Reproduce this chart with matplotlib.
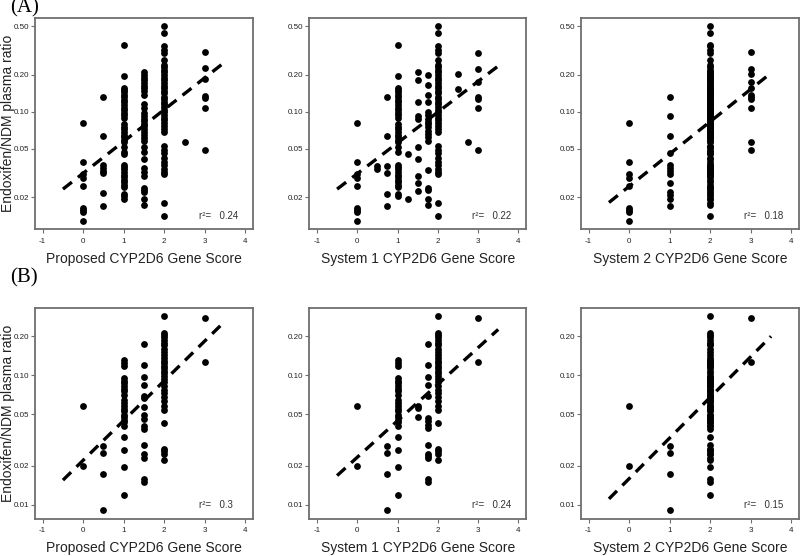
import matplotlib
matplotlib.use('Agg')
import matplotlib.pyplot as plt
from matplotlib.ticker import NullLocator

plt.rcParams['font.family'] = ['Liberation Sans', 'DejaVu Sans']

# ---- row A : ratio by gene score ----
prop_a = {0: [0.081, 0.039, 0.031, 0.029, 0.0247, 0.0163, 0.0157, 0.0151, 0.0128],
          0.5: [0.133, 0.063, 0.0365, 0.0348, 0.033, 0.0314, 0.0218, 0.017],
          1: [0.352, 0.197, 0.157, 0.150, 0.144, 0.137, 0.131, 0.125, 0.119, 0.113,
              0.108, 0.103, 0.098, 0.094, 0.089, 0.079, 0.075, 0.072, 0.069, 0.065,
              0.062, 0.059, 0.057, 0.052, 0.047, 0.045, 0.037, 0.0354, 0.0339, 0.0322,
              0.0306, 0.0293, 0.028, 0.0267, 0.0254, 0.0243, 0.0214, 0.0205, 0.0195],
          1.5: [0.210, 0.200, 0.190, 0.181, 0.171, 0.163, 0.155, 0.148, 0.137, 0.115,
                0.108, 0.097, 0.093, 0.088, 0.084, 0.080, 0.076, 0.072, 0.069, 0.065,
                0.061, 0.058, 0.052, 0.047, 0.041, 0.035, 0.032, 0.030, 0.024, 0.023,
                0.022, 0.0195, 0.0174],
          2: [0.50, 0.439, 0.341, 0.320, 0.301, 0.265, 0.241, 0.230, 0.219, 0.210,
              0.200, 0.190, 0.181, 0.171, 0.163, 0.155, 0.148, 0.141, 0.133, 0.127,
              0.121, 0.115, 0.109, 0.104, 0.099, 0.094, 0.089, 0.085, 0.081, 0.077,
              0.073, 0.069, 0.053, 0.049, 0.046, 0.042, 0.039, 0.037, 0.034, 0.032,
              0.031, 0.018, 0.0142],
          2.5: [0.057],
          3: [0.306, 0.226, 0.185, 0.135, 0.129, 0.108, 0.049]}

sys1_a = {0: [0.081, 0.039, 0.031, 0.029, 0.0247, 0.0163, 0.0157, 0.0151, 0.0128],
          0.5: [0.036, 0.034],
          0.75: [0.133, 0.063, 0.0358, 0.0318, 0.0215, 0.017],
          1: [0.352, 0.197, 0.157, 0.150, 0.144, 0.137, 0.131, 0.125, 0.119, 0.113,
              0.108, 0.103, 0.098, 0.094, 0.089, 0.079, 0.075, 0.072, 0.069, 0.065,
              0.062, 0.059, 0.057, 0.052, 0.047, 0.037, 0.0354, 0.0339, 0.0322,
              0.0306, 0.0293, 0.028, 0.0267, 0.0254, 0.0243, 0.0214, 0.0205],
          1.25: [0.045, 0.0195],
          1.5: [0.210, 0.181, 0.121, 0.093, 0.088, 0.052, 0.041, 0.030, 0.0263, 0.0225],
          1.75: [0.199, 0.164, 0.136, 0.120, 0.0987, 0.0933, 0.0877, 0.0822, 0.0787,
                 0.0748, 0.0703, 0.0661, 0.0619, 0.0582, 0.0335, 0.0241, 0.0230,
                 0.0194, 0.0174],
          2: [0.50, 0.439, 0.341, 0.320, 0.301, 0.265, 0.241, 0.230, 0.219, 0.210,
              0.200, 0.190, 0.181, 0.171, 0.163, 0.155, 0.148, 0.141, 0.133, 0.127,
              0.121, 0.115, 0.109, 0.104, 0.099, 0.094, 0.089, 0.085, 0.081, 0.077,
              0.073, 0.069, 0.053, 0.049, 0.046, 0.042, 0.039, 0.037, 0.034, 0.032,
              0.031, 0.018, 0.0142],
          2.5: [0.202, 0.153],
          2.75: [0.057],
          3: [0.303, 0.224, 0.174, 0.133, 0.128, 0.108, 0.049]}

sys2_a = {0: [0.081, 0.039, 0.031, 0.029, 0.0247, 0.0163, 0.0157, 0.0151, 0.0128],
          1: [0.133, 0.092, 0.063, 0.0461, 0.0365, 0.0348, 0.0326, 0.0312, 0.0262,
              0.0221, 0.021, 0.0195, 0.017],
          2: prop_a[1] + prop_a[1.5] + prop_a[2],
          3: [0.305, 0.225, 0.202, 0.175, 0.155, 0.136, 0.132, 0.128, 0.108,
              0.0563, 0.0489]}

# ---- row B ----
prop_b = {0: [0.0584, 0.0198],
          0.5: [0.0286, 0.0251, 0.0173, 0.0091],
          1: [0.131, 0.125, 0.118, 0.095, 0.091, 0.087, 0.083, 0.078, 0.075, 0.070,
              0.065, 0.061, 0.058, 0.055, 0.053, 0.0496, 0.0475, 0.0448, 0.0432,
              0.0407, 0.0334, 0.0266, 0.0196, 0.0119],
          1.5: [0.176, 0.120, 0.0975, 0.0841, 0.0693, 0.0665, 0.0573, 0.0495, 0.0459,
                0.0407, 0.0384, 0.0291, 0.0248, 0.0228, 0.0157, 0.0150],
          2: [0.287, 0.213, 0.204, 0.196, 0.187, 0.178, 0.170, 0.160, 0.151, 0.143,
              0.136, 0.129, 0.124, 0.118, 0.113, 0.108, 0.104, 0.099, 0.094, 0.089,
              0.083, 0.077, 0.073, 0.068, 0.063, 0.058, 0.054, 0.043, 0.027, 0.0258,
              0.0248, 0.0220],
          3: [0.279, 0.127]}

sys1_b = {0: [0.0584, 0.0198],
          0.75: [0.0286, 0.0251, 0.0173, 0.0091],
          1: [0.131, 0.125, 0.118, 0.095, 0.091, 0.087, 0.083, 0.078, 0.075, 0.070,
              0.065, 0.061, 0.058, 0.055, 0.053, 0.0496, 0.0475, 0.0448, 0.0432,
              0.0407, 0.0334, 0.0266, 0.0196, 0.0119],
          1.5: [0.058, 0.0555, 0.0475],
          1.75: [0.176, 0.120, 0.0975, 0.0841, 0.0693, 0.0467, 0.0440, 0.0415, 0.0391,
                 0.0291, 0.0248, 0.0237, 0.0228, 0.0157, 0.0150],
          2: [0.287, 0.213, 0.204, 0.196, 0.187, 0.178, 0.170, 0.160, 0.151, 0.143,
              0.136, 0.129, 0.124, 0.118, 0.113, 0.108, 0.104, 0.099, 0.094, 0.089,
              0.083, 0.077, 0.073, 0.068, 0.063, 0.058, 0.054, 0.043, 0.027, 0.0258,
              0.0248, 0.0220],
          3: [0.279, 0.127]}

sys2_b = {0: [0.0584, 0.0198],
          1: [0.0286, 0.0251, 0.0173, 0.0091],
          2: prop_b[1] + prop_b[1.5] + prop_b[2],
          3: [0.279, 0.127]}

# fitted line: ratio at score -0.5 and at 3.5
line_x = [-0.5, 3.5]
fits = [[0.0234, 0.255], [0.0234, 0.236], [0.0182, 0.207],
        [0.0155, 0.262], [0.0168, 0.226], [0.0111, 0.200]]
r2 = ['0.24', '0.22', '0.18', '0.3', '0.24', '0.15']

xlabels = ['Proposed CYP2D6 Gene Score', 'System 1 CYP2D6 Gene Score',
           'System 2 CYP2D6 Gene Score']
yticks_a = [0.02, 0.05, 0.10, 0.20, 0.50]
yticks_b = [0.01, 0.02, 0.05, 0.10, 0.20]
xticks = [-1, 0, 1, 2, 3, 4]

W, H = 800, 556
fig = plt.figure(figsize=(8, 5.56), dpi=100)
lefts = [35, 309.3, 581]
widths = [218, 216.7, 218]
tops = [18.3, 308]
ax_h = 211

panels = [prop_a, sys1_a, sys2_a, prop_b, sys1_b, sys2_b]
grey = '#6e6e6e'
for k, data in enumerate(panels):
    row, col = divmod(k, 3)
    ax = fig.add_axes([lefts[col] / W, 1 - (tops[row] + ax_h) / H,
                       widths[col] / W, ax_h / H])
    for score, vals in data.items():
        ax.scatter([score] * len(vals), vals, s=24, c='black', linewidths=0,
                   zorder=3)
    ax.plot(line_x, fits[k], color='black', lw=2.4, dashes=(3.4, 2.3), zorder=4)
    ax.set_yscale('log')
    if row == 0:
        ax.set_ylim(0.011, 0.578)
        ticks = yticks_a
    else:
        ax.set_ylim(0.00776, 0.331)
        ticks = yticks_b
    ax.set_yticks(ticks)
    ax.set_yticklabels([f'{t:.2f}' for t in ticks])
    ax.yaxis.set_minor_locator(NullLocator())
    ax.set_xlim(-1.19, 4.19)
    ax.set_xticks(xticks)
    ax.set_xticklabels([str(t) for t in xticks])
    for s in ax.spines.values():
        s.set_color(grey)
        s.set_linewidth(1.3)
    ax.tick_params(axis='both', colors=grey, labelcolor='#222222', labelsize=5.8,
                   length=3, width=0.8)
    ax.tick_params(axis='y', pad=1)
    ax.tick_params(axis='x', pad=3)
    ax.set_xlabel(xlabels[col], fontsize=10, color='#222222', labelpad=5)
    if col == 0:
        ax.set_ylabel('Endoxifen/NDM plasma ratio', fontsize=10, color='#222222')
        ax.yaxis.set_label_coords(-0.092, 0.5)
    ax.text(0.75, 0.064, f'r\u00b2=   {r2[k]}', transform=ax.transAxes,
            fontsize=7, color='#333333', va='center', ha='left')

fig.text(10 / W, 1 - 8 / H, '(A)', fontsize=15, family='Liberation Serif',
         va='center', ha='left')
fig.text(10 / W, 1 - 278 / H, '(B)', fontsize=15, family='Liberation Serif',
         va='center', ha='left')

fig.savefig('out.png', dpi=100)
